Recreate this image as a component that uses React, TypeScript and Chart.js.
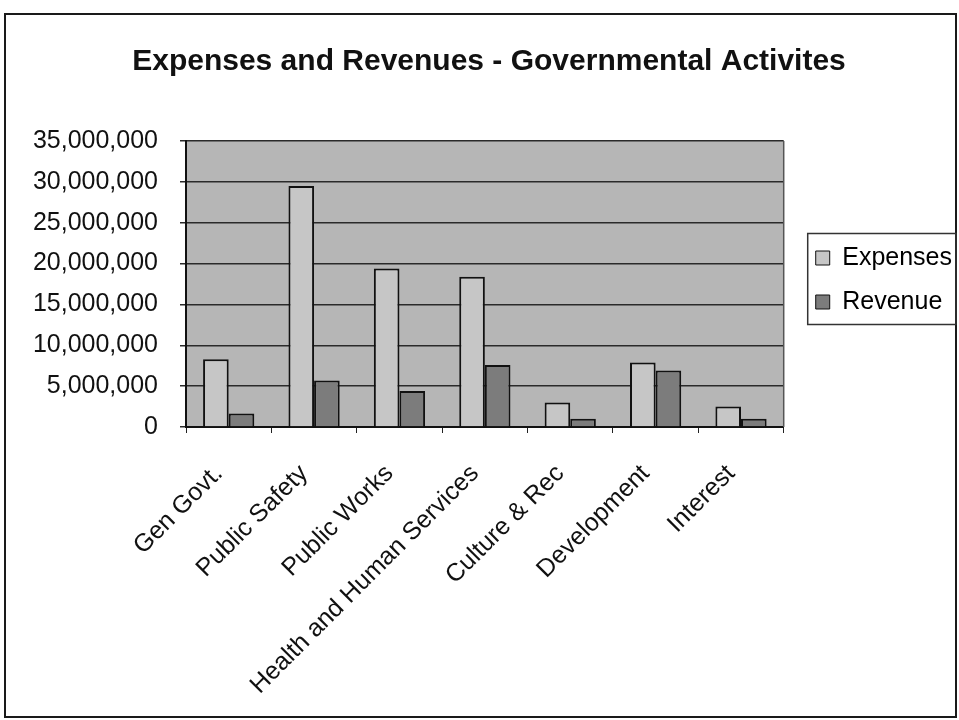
import React, { useEffect, useRef } from "react";
import { Chart, registerables } from "chart.js";

Chart.register(...registerables);

const categories = [
  "Gen Govt.",
  "Public Safety",
  "Public Works",
  "Health and Human Services",
  "Culture & Rec",
  "Development",
  "Interest",
];
const expenses = [8300000, 29500000, 19400000, 18400000, 3000000, 7900000, 2500000];
const revenue = [1650000, 5700000, 4400000, 7600000, 1000000, 6900000, 1000000];
const yMin = 0;
const yMax = 35000000;
const yStep = 5000000;

const FONT = "'Liberation Sans', Arial, sans-serif";

const framePlugin = {
  id: "frame",
  afterLayout(chart: any) {
    const lg = chart.legend;
    if (lg) {
      lg.left += 13;
      lg.right += 13;
      lg.top -= 4;
      lg.bottom -= 4;
    }
  },
  beforeDraw(chart: any) {
    const { ctx, chartArea: a } = chart;
    ctx.save();
    ctx.fillStyle = "#ffffff";
    ctx.fillRect(0, 0, chart.width, chart.height);
    ctx.strokeStyle = "#1a1a1a";
    ctx.lineWidth = 2;
    ctx.strokeRect(5, 14, 951, 703);
    ctx.fillStyle = "#b6b6b6";
    ctx.fillRect(a.left, a.top, a.width, a.height);
    ctx.restore();
  },
  afterDraw(chart: any) {
    const { ctx, chartArea: a } = chart;
    ctx.save();
    ctx.strokeStyle = "#555";
    ctx.lineWidth = 1.5;
    ctx.beginPath();
    ctx.moveTo(a.right, a.top);
    ctx.lineTo(a.right, a.bottom);
    ctx.stroke();
    const hb = chart.legend && chart.legend.legendHitBoxes;
    if (hb && hb.length) {
      const first = hb[0];
      const last = hb[hb.length - 1];
      const left = first.left - 8;
      const top = first.top - 12;
      const bottom = last.top + last.height + 10;
      ctx.strokeStyle = "#333";
      ctx.lineWidth = 1.5;
      ctx.strokeRect(left, top, 956 - left, bottom - top);
    }
    ctx.restore();
  },
};

export default function App() {
  const ref = useRef<HTMLCanvasElement>(null);
  useEffect(() => {
    if (!ref.current) return;
    const chart = new Chart(ref.current, {
      type: "bar",
      data: {
        labels: categories,
        datasets: [
          {
            label: "Expenses",
            data: expenses,
            backgroundColor: "#c6c6c6",
            borderColor: "#111",
            borderWidth: 2,
            categoryPercentage: 0.6,
            barPercentage: 1.0,
          },
          {
            label: "Revenue",
            data: revenue,
            backgroundColor: "#7c7c7c",
            borderColor: "#111",
            borderWidth: 2,
            categoryPercentage: 0.6,
            barPercentage: 1.0,
          },
        ],
      },
      options: {
        responsive: false,
        animation: false,
        layout: { padding: { left: 29, right: 10, top: 30, bottom: 15 } },
        plugins: {
          title: {
            display: true,
            text: "Expenses and Revenues - Governmental Activites",
            color: "#111",
            font: { family: FONT, size: 30, weight: "bold" },
            padding: { top: 14, bottom: 61 },
          },
          legend: {
            display: true,
            position: "right",
            fullSize: false,
            labels: {
              color: "#111",
              font: { family: FONT, size: 25 },
              boxWidth: 14,
              boxHeight: 14,
              padding: 19,
              generateLabels(chart: any) {
                return chart.data.datasets.map((ds: any, i: number) => ({
                  text: ds.label,
                  fillStyle: ds.backgroundColor,
                  strokeStyle: "#111",
                  lineWidth: 1,
                  datasetIndex: i,
                  hidden: false,
                }));
              },
            },
          },
          tooltip: { enabled: false },
        },
        scales: {
          x: {
            afterFit: (scale: any) => {
              scale.height = 278;
            },
            grid: {
              drawOnChartArea: false,
              drawTicks: true,
              tickLength: 6,
              color: "#222",
              lineWidth: 1,
            },
            border: { display: true, color: "#111", width: 2 },
            ticks: {
              autoSkip: false,
              maxRotation: 45,
              minRotation: 45,
              color: "#111",
              font: { family: FONT, size: 25 },
              padding: 26,
              labelOffset: -10,
            },
          },
          y: {
            min: yMin,
            max: yMax,
            afterFit: (scale: any) => {
              scale.width = 157;
            },
            grid: {
              color: "#2a2a2a",
              lineWidth: 1.5,
              tickLength: 6,
              drawTicks: true,
            },
            border: { display: true, color: "#111", width: 2 },
            ticks: {
              stepSize: yStep,
              color: "#111",
              font: { family: FONT, size: 25 },
              padding: 22,
              callback: (v: any) => Number(v).toLocaleString("en-US"),
            },
          },
        },
      },
      plugins: [framePlugin],
    });
    return () => chart.destroy();
  }, []);
  return (
    <div style={{ position: "fixed", left: 0, top: 0, width: 959, height: 720 }}>
      <canvas ref={ref} width={959} height={720} />
    </div>
  );
}
